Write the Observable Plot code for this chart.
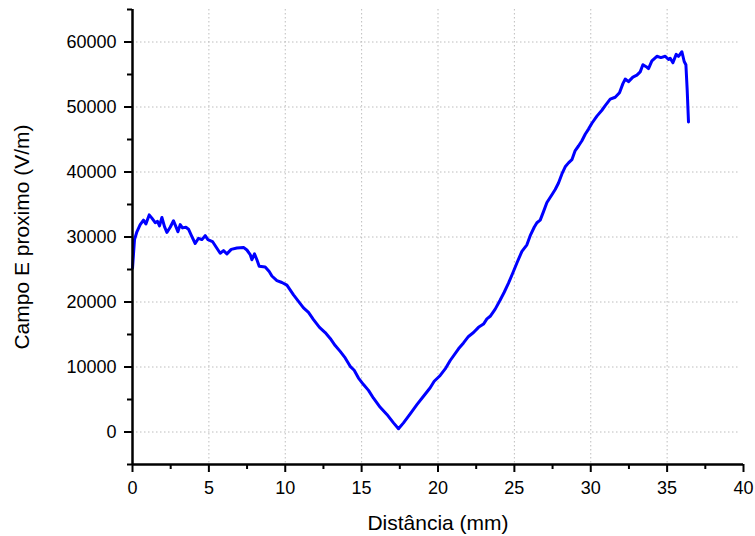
<!DOCTYPE html>
<html>
<head>
<meta charset="utf-8">
<script src="https://cdn.jsdelivr.net/npm/d3@7"></script>
<script src="https://cdn.jsdelivr.net/npm/@observablehq/plot@0.6"></script>
<style>
  html, body { margin: 0; padding: 0; background: #fff; }
  #chart svg { display: block; }
</style>
</head>
<body>
<div id="chart"></div>
<script>
// Distance (mm)
const distance = [
  0.000, 0.131, 0.288, 0.504, 0.720, 0.877, 1.093, 1.270, 1.486, 1.637,
  1.768, 1.925, 2.095, 2.252, 2.468, 2.684, 2.841, 2.972, 3.123, 3.273,
  3.496, 3.666, 3.843, 4.105, 4.321, 4.543, 4.759, 4.936, 5.237, 5.460,
  5.741, 5.957, 6.180, 6.462, 6.835, 7.267, 7.489, 7.705, 7.817, 7.987,
  8.144, 8.295, 8.687, 8.949, 9.126, 9.453, 9.781, 10.108, 10.540, 10.867,
  11.195, 11.522, 11.849, 12.242, 12.615, 12.943, 13.270, 13.597, 13.925, 14.252,
  14.514, 14.795, 15.123, 15.450, 15.777, 16.216, 16.654, 17.087, 17.414, 17.741,
  18.180, 18.619, 19.051, 19.489, 19.751, 20.144, 20.471, 20.799, 21.342, 21.669,
  21.997, 22.324, 22.651, 22.979, 23.201, 23.417, 23.745, 24.072, 24.334, 24.615,
  24.903, 25.165, 25.493, 25.820, 26.036, 26.298, 26.475, 26.691, 26.907, 27.130,
  27.457, 27.673, 27.889, 28.112, 28.328, 28.543, 28.766, 28.982, 29.198, 29.421,
  29.637, 29.853, 30.075, 30.403, 30.730, 30.946, 31.274, 31.601, 31.882, 32.105,
  32.255, 32.471, 32.759, 33.021, 33.237, 33.414, 33.630, 33.781, 34.003, 34.330,
  34.592, 34.874, 35.090, 35.201, 35.378, 35.594, 35.745, 35.967, 36.118, 36.229,
  36.314, 36.399
];
// Near electric field (V/m)
const field = [
  25200, 29600, 30800, 31900, 32600, 32000, 33400, 32900, 32200, 32400,
  31700, 33000, 31600, 30700, 31500, 32500, 31600, 30800, 31900, 31400,
  31500, 31200, 30300, 29000, 29800, 29600, 30200, 29600, 29300, 28500,
  27500, 27900, 27400, 28100, 28300, 28400, 28000, 27300, 26500, 27400,
  26500, 25500, 25400, 24700, 24000, 23300, 23000, 22600, 21100, 20100,
  19100, 18400, 17300, 16100, 15300, 14400, 13300, 12400, 11400, 10100,
  9500, 8300, 7300, 6400, 5200, 3800, 2700, 1400, 500, 1400,
  2800, 4200, 5500, 6800, 7800, 8700, 9700, 11000, 12800, 13700,
  14700, 15300, 16100, 16600, 17400, 17800, 18900, 20300, 21500, 22900,
  24500, 26000, 27800, 28800, 30200, 31500, 32200, 32600, 33900, 35300,
  36500, 37300, 38300, 39700, 40800, 41400, 41900, 43300, 44000, 44800,
  45800, 46600, 47500, 48600, 49500, 50200, 51200, 51500, 52200, 53600,
  54300, 53900, 54600, 54900, 55400, 56500, 56200, 55900, 57100, 57800,
  57600, 57800, 57300, 57500, 56800, 58100, 57800, 58500, 57000, 56500,
  52600, 47700
];
const xMajor = [0, 5, 10, 15, 20, 25, 30, 35, 40];
const xMinor = [2.5, 7.5, 12.5, 17.5, 22.5, 27.5, 32.5, 37.5];
const yMajor = [0, 10000, 20000, 30000, 40000, 50000, 60000];
const yMinor = [-5000, 5000, 15000, 25000, 35000, 45000, 55000, 65000];
const xGrid = [5, 10, 15, 20, 25, 30, 35];
const yGrid = [0, 10000, 20000, 30000, 40000, 50000, 60000];
const xLabel = "Distância (mm)";
const yLabel = "Campo E proximo (V/m)";

const data = distance.map((d, i) => ({x: d, y: field[i]}));

const chart = Plot.plot({
  width: 755,
  height: 536,
  marginLeft: 132,
  marginRight: 12,
  marginTop: 9,
  marginBottom: 72,
  style: {fontFamily: "Arial, 'Liberation Sans', Helvetica, sans-serif", fontSize: "18px", background: "#fff", color: "#000"},
  x: {domain: [0, 40]},
  y: {domain: [-5000, 65000]},
  marks: [
    Plot.gridX(xGrid, {stroke: "#bdbdbd", strokeOpacity: 1, strokeDasharray: "1.5,2.5", strokeWidth: 1}),
    Plot.gridY(yGrid, {stroke: "#bdbdbd", strokeOpacity: 1, strokeDasharray: "1.5,2.5", strokeWidth: 1, x1: 0, x2: 39.8}),
    Plot.line(data, {x: "x", y: "y", stroke: "#0000ff", strokeWidth: 3, strokeLinejoin: "round"}),
    Plot.axisX(xMinor, {tickSize: 5, strokeWidth: 2, text: null, label: null}),
    Plot.axisY(yMinor, {tickSize: 5, strokeWidth: 2, text: null, label: null}),
    Plot.axisX(xMajor, {tickSize: 8, tickPadding: 9, strokeWidth: 2, label: null}),
    Plot.axisY(yMajor, {tickSize: 8, tickPadding: 8, strokeWidth: 2, tickFormat: d3.format("d"), label: null}),
    Plot.ruleX([0], {stroke: "#000", strokeWidth: 2.5}),
    Plot.ruleY([-5000], {stroke: "#000", strokeWidth: 2.5}),
    Plot.text([xLabel], {frameAnchor: "bottom", dy: 59, fontSize: 21, textAnchor: "middle", lineAnchor: "middle", fill: "#000"}),
    Plot.text([yLabel], {frameAnchor: "left", dx: -110, rotate: -90, fontSize: 21, textAnchor: "middle", lineAnchor: "middle", fill: "#000"})
  ]
});
document.getElementById("chart").appendChild(chart);
</script>
</body>
</html>
